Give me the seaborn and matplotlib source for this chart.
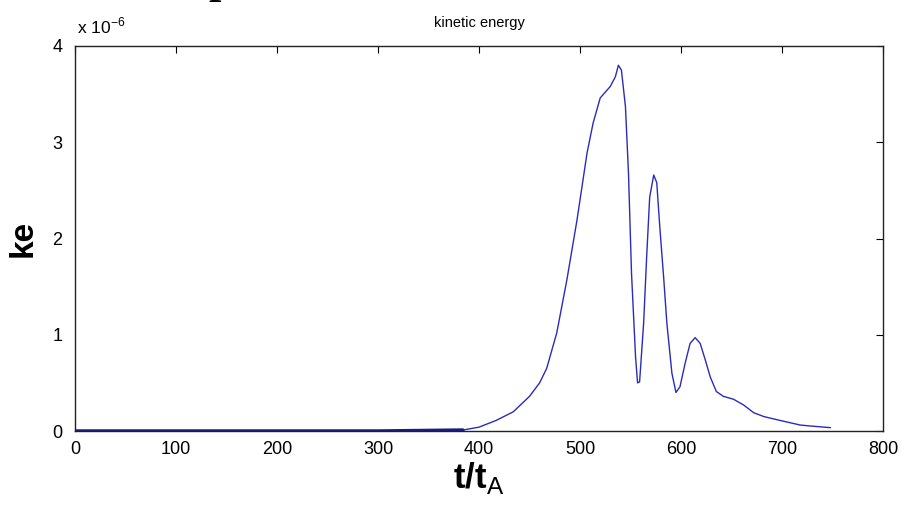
import matplotlib
matplotlib.use("Agg")
import matplotlib.pyplot as plt
import seaborn as sns
import numpy as np
import pandas as pd
from matplotlib.ticker import FuncFormatter

# data (ke in units of 1e-6)
t = [0, 100, 200, 300, 384, 400, 417, 434, 450, 460, 467, 477, 487, 497, 507, 513,
     520, 530, 535, 538, 541, 545, 548, 551, 555, 557, 559, 563, 566, 569, 573, 576,
     579, 583, 586, 591, 595, 599, 604, 609, 614, 619, 624, 629, 635, 642, 652, 662,
     672, 682, 698, 718, 728, 748]
ke_e6 = [0, 0, 0, 0, 0.01, 0.04, 0.11, 0.2, 0.36, 0.5, 0.65, 1.02, 1.57, 2.19, 2.89, 3.2,
         3.46, 3.58, 3.68, 3.80, 3.75, 3.37, 2.68, 1.64, 0.77, 0.5, 0.51, 1.12, 1.81, 2.43, 2.66, 2.58,
         2.12, 1.57, 1.12, 0.6, 0.40, 0.46, 0.7, 0.91, 0.97, 0.91, 0.74, 0.56, 0.41, 0.36, 0.33, 0.27,
         0.19, 0.15, 0.11, 0.062, 0.052, 0.035]
xticks = [0, 100, 200, 300, 400, 500, 600, 700, 800]
yticks = [0, 1, 2, 3, 4]
title = "kinetic energy"

df = pd.DataFrame({"t": t, "ke": np.array(ke_e6) * 1e-6})

sns.set_theme(style="white")
plt.rcParams["font.family"] = ["Liberation Sans", "DejaVu Sans"]
plt.rcParams["mathtext.fontset"] = "custom"
plt.rcParams["mathtext.bf"] = "Liberation Sans:bold"
plt.rcParams["mathtext.rm"] = "Liberation Sans"
plt.rcParams["text.color"] = "black"
plt.rcParams["axes.labelcolor"] = "black"

fig = plt.figure(figsize=(9.02, 5.17), dpi=100)
ax = fig.add_axes([75/902, 1-431/517, (883-75)/902, (431-46)/517])

col = "#2b2bbb"
sns.lineplot(data=df, x="t", y="ke", ax=ax, color=col, lw=1.0, estimator=None, sort=False)
sns.lineplot(data=df.iloc[:5], x="t", y="ke", ax=ax, color="#1a1a8a", lw=2.5, estimator=None, sort=False)

ax.set_xlim(0, 800)
ax.set_ylim(0, 4e-6)
ax.set_xticks(xticks)
ax.set_yticks([v * 1e-6 for v in yticks])
ax.yaxis.set_major_formatter(FuncFormatter(lambda v, p: f"{v/1e-6:.0f}"))
ax.tick_params(direction="in", length=5, width=0.8, top=True, right=True,
               labelsize=13, colors="black", pad=7)
ax.tick_params(axis="y", pad=9)
for s in ax.spines.values():
    s.set_color("#222222")
    s.set_linewidth(1.0)

ax.set_xlabel(r"$\mathbf{t/t}_{\mathrm{A}}$", fontsize=25, labelpad=2, color="black")
ax.set_ylabel("ke", fontsize=24, fontweight="bold", labelpad=10, color="black")
ax.set_title(title, fontsize=10.5, pad=14, color="black")

fig.text(77/902, 1-33/517, r"x 10$^{-6}$", fontsize=12.5, ha="left", va="baseline")
fig.text(221/902, 1+7.5/517, "p", family="Liberation Serif", fontsize=32,
         fontweight="bold", ha="center", va="baseline")

fig.savefig("out.png", dpi=100, facecolor="white")
